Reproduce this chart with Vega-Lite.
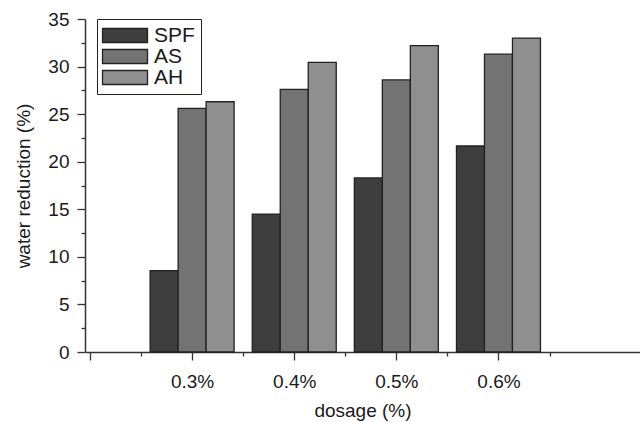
{
  "$schema": "https://vega.github.io/schema/vega-lite/v6.json",
  "width": 555,
  "height": 333,
  "autosize": "none",
  "padding": {"left": 85, "top": 19, "right": 0, "bottom": 70},
  "background": "white",
  "config": {
    "font": "Liberation Sans",
    "view": {"stroke": null},
    "axis": {
      "domainColor": "#333333",
      "domainWidth": 1.5,
      "tickColor": "#333333",
      "tickWidth": 1.3,
      "labelColor": "#1a1a1a",
      "titleColor": "#1a1a1a",
      "labelFontSize": 19,
      "titleFontSize": 19,
      "titleFontWeight": "normal",
      "grid": false
    }
  },
  "data": {
    "values": [
      {"dosage": 0.3, "series": "SPF", "value": 8.55},
      {"dosage": 0.3, "series": "AS", "value": 25.6},
      {"dosage": 0.3, "series": "AH", "value": 26.3},
      {"dosage": 0.4, "series": "SPF", "value": 14.5},
      {"dosage": 0.4, "series": "AS", "value": 27.6},
      {"dosage": 0.4, "series": "AH", "value": 30.45},
      {"dosage": 0.5, "series": "SPF", "value": 18.3},
      {"dosage": 0.5, "series": "AS", "value": 28.6},
      {"dosage": 0.5, "series": "AH", "value": 32.2},
      {"dosage": 0.6, "series": "SPF", "value": 21.65},
      {"dosage": 0.6, "series": "AS", "value": 31.3},
      {"dosage": 0.6, "series": "AH", "value": 33.0}
    ]
  },
  "encoding": {
    "x": {
      "field": "dosage",
      "type": "quantitative",
      "scale": {"domain": [0.2, 0.7337], "nice": false, "zero": false},
      "axis": {
        "title": "dosage (%)",
        "values": [0.2, 0.25, 0.3, 0.35, 0.4, 0.45, 0.5, 0.55, 0.6, 0.65],
        "labelExpr": "(datum.value > 0.29 && datum.value < 0.61 && abs(datum.value*10 - round(datum.value*10)) < 0.01) ? format(datum.value, '.1f') + '%' : ''",
        "tickSize": {"condition": {"test": "abs(datum.value*10 - round(datum.value*10)) > 0.01", "value": 4}, "value": 8},
        "labelPadding": 12,
        "titlePadding": 10,
        "labelFlush": false,
        "labelOverlap": false
      }
    },
    "y": {
      "field": "value",
      "type": "quantitative",
      "stack": null,
      "scale": {"domain": [0, 35], "nice": false},
      "axis": {
        "title": "water reduction (%)",
        "values": [0, 2.5, 5, 7.5, 10, 12.5, 15, 17.5, 20, 22.5, 25, 27.5, 30, 32.5, 35],
        "labelExpr": "datum.value % 5 == 0 ? datum.value : ''",
        "tickSize": {"condition": {"test": "datum.value % 5 != 0", "value": 4}, "value": 8},
        "labelPadding": 8,
        "titlePadding": 14,
        "labelOverlap": false,
        "labelFlush": false
      }
    },
    "fill": {
      "field": "series",
      "type": "nominal",
      "sort": ["SPF", "AS", "AH"],
      "scale": {"domain": ["SPF", "AS", "AH"], "range": ["#3e3e3e", "#737373", "#8f8f8f"]},
      "legend": {
        "title": null,
        "orient": "none",
        "legendX": 12,
        "legendY": 0,
        "strokeColor": "#222222",
        "fillColor": "white",
        "padding": 6,
        "symbolType": "M-1.222,-0.78H3.778V0.78H-1.222Z",
        "symbolSize": 324,
        "symbolStrokeColor": "#222222",
        "symbolStrokeWidth": 1.3,
        "symbolOpacity": 1,
        "labelFontSize": 21,
        "labelColor": "#1a1a1a",
        "labelOffset": 30,
        "rowPadding": -2
      }
    }
  },
  "layer": [
    {
      "transform": [{"filter": "datum.series == 'SPF'"}],
      "mark": {"type": "bar", "width": 28, "xOffset": -28, "stroke": "#222222", "strokeWidth": 1.3}
    },
    {
      "transform": [{"filter": "datum.series == 'AS'"}],
      "mark": {"type": "bar", "width": 28, "xOffset": 0, "stroke": "#222222", "strokeWidth": 1.3}
    },
    {
      "transform": [{"filter": "datum.series == 'AH'"}],
      "mark": {"type": "bar", "width": 28, "xOffset": 28, "stroke": "#222222", "strokeWidth": 1.3}
    }
  ]
}
